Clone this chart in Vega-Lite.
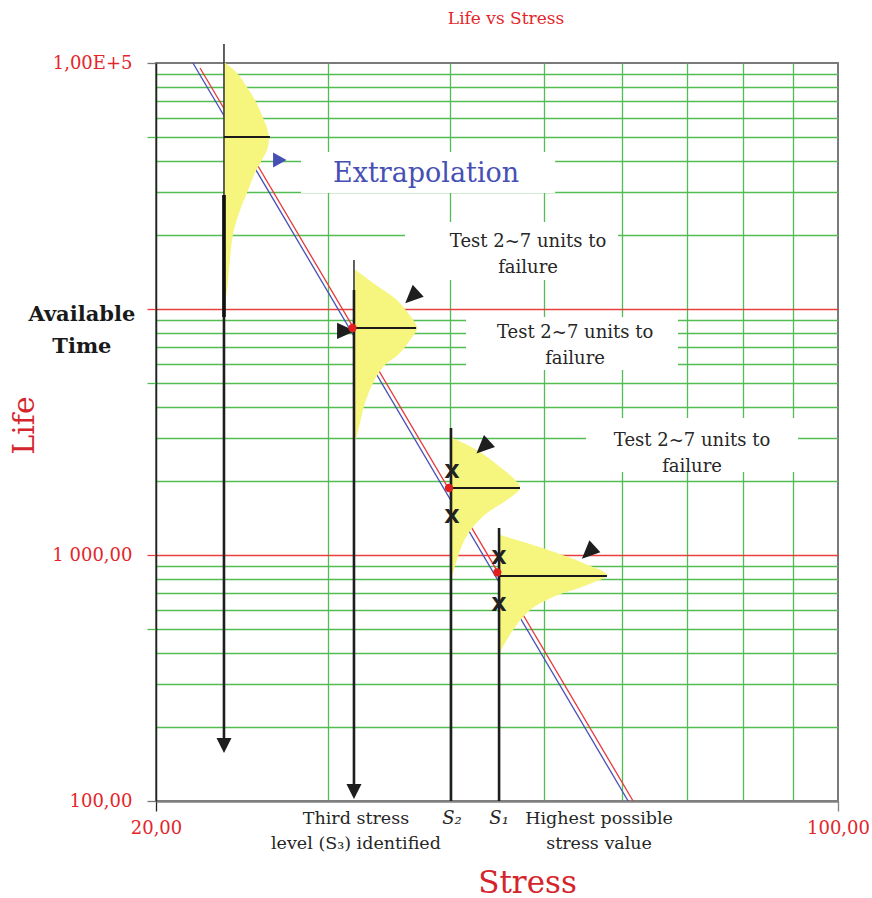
{
  "$schema": "https://vega.github.io/schema/vega-lite/v6.json",
  "width": 682,
  "height": 738,
  "autosize": {"type": "none"},
  "padding": {"left": 156, "top": 63, "right": 34, "bottom": 97},
  "background": "#ffffff",
  "config": {
    "view": {"stroke": "#7a7a7a", "strokeWidth": 2},
    "font": "DejaVu Serif"
  },
  "title": {"text": "Life vs Stress", "font": "DejaVu Serif", "fontSize": 17, "fontWeight": "normal", "color": "#e3262b", "frame": "group", "anchor": "middle", "dx": 9, "offset": 15},
  "encoding": {
    "x": {
      "field": "stress", "type": "quantitative",
      "scale": {"type": "log", "domain": [20, 100], "nice": false, "zero": false},
      "axis": {
        "values": [20, 30, 40, 50, 60, 70, 80, 90, 100],
        "labelExpr": "datum.value == 20 ? '20,00' : datum.value == 100 ? '100,00' : ''",
        "labelFont": "DejaVu Serif", "labelFontSize": 18, "labelColor": "#e3262b", "labelPadding": 8,
        "labelFlush": false, "labelOverlap": false,
        "tickSize": 10, "tickWidth": 1.3,
        "tickColor": {"condition": [{"test": "datum.value == 20", "value": "#222222"}, {"test": "datum.value == 100", "value": "#808080"}], "value": "rgba(0,0,0,0)"},
        "grid": true,
        "gridColor": {"condition": {"test": "datum.value == 20 || datum.value == 100", "value": "rgba(0,0,0,0)"}, "value": "#52bd52"},
        "gridWidth": 1.3,
        "domainColor": "#808080", "domainWidth": 2.5,
        "title": "Stress", "titleFont": "DejaVu Serif", "titleFontSize": 31, "titleFontWeight": "normal", "titleColor": "#d4252d",
        "titleX": 371, "titleY": 91, "titleBaseline": "alphabetic"
      }
    },
    "y": {
      "field": "life", "type": "quantitative",
      "scale": {"type": "log", "domain": [100, 100000], "nice": false, "zero": false},
      "axis": {
        "values": [100, 200, 300, 400, 500, 600, 700, 800, 900, 1000, 2000, 3000, 4000, 5000, 6000, 7000, 8000, 9000, 10000, 20000, 30000, 40000, 50000, 60000, 70000, 80000, 90000, 100000],
        "labelExpr": "datum.value == 100000 ? '1,00E+5' : datum.value == 1000 ? '1 000,00' : datum.value == 100 ? '100,00' : ''",
        "labelFont": "DejaVu Serif", "labelFontSize": 18, "labelColor": "#e3262b", "labelPadding": 15,
        "labelFlush": false, "labelOverlap": false,
        "tickSize": 9, "tickWidth": 1.3,
        "tickColor": {"condition": [{"test": "datum.value == 1000 || datum.value == 10000", "value": "#e8403f"}, {"test": "datum.value == 100 || datum.value == 100000", "value": "#777777"}, {"test": "datum.value == 500 || datum.value == 5000 || datum.value == 50000", "value": "#52bd52"}], "value": "rgba(0,0,0,0)"},
        "grid": true,
        "gridColor": {"condition": [{"test": "datum.value == 1000 || datum.value == 10000", "value": "#e8403f"}, {"test": "datum.value == 100 || datum.value == 100000", "value": "rgba(0,0,0,0)"}], "value": "#52bd52"},
        "gridWidth": 1.3,
        "domainColor": "#1e261e", "domainWidth": 1.5,
        "title": "Life", "titleFont": "DejaVu Serif", "titleFontSize": 30, "titleFontWeight": "normal", "titleColor": "#d4252d",
        "titleX": -117, "titleY": 362
      }
    }
  },
  "layer": [
    {
      "data": {"values": [
        {"stress": 28.16, "stress2": 51.3, "life": 43480, "life2": 29610},
        {"stress": 35.99, "stress2": 59.51, "life": 22570, "life2": 13120},
        {"stress": 41.57, "stress2": 68.55, "life": 9280, "life2": 5649},
        {"stress": 55.19, "stress2": 91.0, "life": 3606, "life2": 2175}
      ]},
      "mark": {"type": "rect", "fill": "#ffffff"},
      "encoding": {"x2": {"field": "stress2"}, "y2": {"field": "life2"}}
    },
    {
      "data": {"values": [
        {"series": "blue", "stress": 21.82, "life": 100000},
        {"series": "blue", "stress": 60.94, "life": 100},
        {"series": "red", "stress": 22.19, "life": 95430},
        {"series": "red", "stress": 61.66, "life": 100}
      ]},
      "mark": {"type": "line", "strokeWidth": 1.3},
      "encoding": {"color": {"field": "series", "type": "nominal", "scale": {"domain": ["red", "blue"], "range": ["#e8383a", "#4650b4"]}, "legend": null}}
    },
    {
      "data": {"values": [
        {"d": 1, "base": 23.48, "life": 100940, "stress": 23.5},
        {"d": 1, "base": 23.48, "life": 91080, "stress": 24.21},
        {"d": 1, "base": 23.48, "life": 79870, "stress": 24.79},
        {"d": 1, "base": 23.48, "life": 70710, "stress": 25.26},
        {"d": 1, "base": 23.48, "life": 59760, "stress": 25.75},
        {"d": 1, "base": 23.48, "life": 54420, "stress": 25.99},
        {"d": 1, "base": 23.48, "life": 49560, "stress": 26.11},
        {"d": 1, "base": 23.48, "life": 44300, "stress": 25.99},
        {"d": 1, "base": 23.48, "life": 40340, "stress": 25.68},
        {"d": 1, "base": 23.48, "life": 35710, "stress": 25.26},
        {"d": 1, "base": 23.48, "life": 29610, "stress": 24.79},
        {"d": 1, "base": 23.48, "life": 25260, "stress": 24.39},
        {"d": 1, "base": 23.48, "life": 19990, "stress": 23.98},
        {"d": 1, "base": 23.48, "life": 14410, "stress": 23.76},
        {"d": 1, "base": 23.48, "life": 11950, "stress": 23.65},
        {"d": 1, "base": 23.48, "life": 10285, "stress": 23.5},
        {"d": 2, "base": 31.95, "life": 14410, "stress": 32.05},
        {"d": 2, "base": 31.95, "life": 12760, "stress": 33.38},
        {"d": 2, "base": 31.95, "life": 10880, "stress": 35.32},
        {"d": 2, "base": 31.95, "life": 9632, "stress": 36.25},
        {"d": 2, "base": 31.95, "life": 8373, "stress": 37.03},
        {"d": 2, "base": 31.95, "life": 7482, "stress": 36.42},
        {"d": 2, "base": 31.95, "life": 6624, "stress": 35.57},
        {"d": 2, "base": 31.95, "life": 5810, "stress": 34.17},
        {"d": 2, "base": 31.95, "life": 5003, "stress": 33.38},
        {"d": 2, "base": 31.95, "life": 4148, "stress": 32.75},
        {"d": 2, "base": 31.95, "life": 3440, "stress": 32.37},
        {"d": 2, "base": 31.95, "life": 2934, "stress": 32.05},
        {"d": 3, "base": 40.12, "life": 2990, "stress": 40.25},
        {"d": 3, "base": 40.12, "life": 2672, "stress": 42.66},
        {"d": 3, "base": 40.12, "life": 2279, "stress": 45.04},
        {"d": 3, "base": 40.12, "life": 2018, "stress": 46.67},
        {"d": 3, "base": 40.12, "life": 1873, "stress": 47.22},
        {"d": 3, "base": 40.12, "life": 1673, "stress": 45.79},
        {"d": 3, "base": 40.12, "life": 1482, "stress": 43.68},
        {"d": 3, "base": 40.12, "life": 1299, "stress": 42.26},
        {"d": 3, "base": 40.12, "life": 1119, "stress": 41.28},
        {"d": 3, "base": 40.12, "life": 954.3, "stress": 40.69},
        {"d": 3, "base": 40.12, "life": 829.3, "stress": 40.25},
        {"d": 4, "base": 44.94, "life": 1206, "stress": 45.1},
        {"d": 4, "base": 44.94, "life": 1119, "stress": 48.0},
        {"d": 4, "base": 44.94, "life": 1019, "stress": 51.54},
        {"d": 4, "base": 44.94, "life": 927.9, "stress": 54.8},
        {"d": 4, "base": 44.94, "life": 829.3, "stress": 57.98},
        {"d": 4, "base": 44.94, "life": 755.1, "stress": 55.31},
        {"d": 4, "base": 44.94, "life": 675.0, "stress": 51.05},
        {"d": 4, "base": 44.94, "life": 597.6, "stress": 48.34},
        {"d": 4, "base": 44.94, "life": 509.7, "stress": 46.67},
        {"d": 4, "base": 44.94, "life": 438.8, "stress": 45.58},
        {"d": 4, "base": 44.94, "life": 399.6, "stress": 45.04},
        {"d": 4, "base": 44.94, "life": 357.1, "stress": 44.94}
      ]},
      "mark": {"type": "area", "orient": "horizontal", "interpolate": "catmull-rom", "color": "#f6f57e", "fillOpacity": 1},
      "encoding": {
        "x": {"field": "stress", "type": "quantitative", "stack": null},
        "x2": {"field": "base"},
        "detail": {"field": "d", "type": "nominal"}
      }
    },
    {
      "data": {"values": [
        {"part": "lead", "stress": 23.48, "life": 119460, "life2": 29060},
        {"part": "stem", "stress": 23.48, "life": 29060, "life2": 177},
        {"part": "thick", "stress": 23.48, "life": 29060, "life2": 9280},
        {"part": "lead", "stress": 31.91, "life": 15820, "life2": 11950},
        {"part": "stem", "stress": 31.91, "life": 11950, "life2": 112},
        {"part": "stem", "stress": 40.12, "life": 3284, "life2": 100},
        {"part": "stem", "stress": 44.94, "life": 1288, "life2": 100}
      ]},
      "layer": [
        {"transform": [{"filter": "datum.part == 'lead'"}], "mark": {"type": "rule", "color": "#3a3a3a", "strokeWidth": 1.6}, "encoding": {"y2": {"field": "life2"}}},
        {"transform": [{"filter": "datum.part == 'stem'"}], "mark": {"type": "rule", "color": "#1e1e1e", "strokeWidth": 2.6}, "encoding": {"y2": {"field": "life2"}}},
        {"transform": [{"filter": "datum.part == 'thick'"}], "mark": {"type": "rule", "color": "#111111", "strokeWidth": 3.6}, "encoding": {"y2": {"field": "life2"}}}
      ]
    },
    {
      "data": {"values": [
        {"stress": 23.48, "stress2": 26.17, "life": 50030},
        {"stress": 31.91, "stress2": 36.95, "life": 8373},
        {"stress": 40.12, "stress2": 47.22, "life": 1873},
        {"stress": 44.94, "stress2": 57.98, "life": 821.5}
      ]},
      "mark": {"type": "rule", "color": "#1a1a1a", "strokeWidth": 2},
      "encoding": {"x2": {"field": "stress2"}}
    },
    {
      "data": {"values": [
        {"stress": 23.48, "life": 168.1},
        {"stress": 31.91, "life": 109.3}
      ]},
      "mark": {"type": "point", "shape": "M-1,-1 L1,-1 L0,1 Z", "size": 225, "filled": true, "fill": "#1e1e1e", "opacity": 1, "strokeWidth": 0}
    },
    {
      "data": {"values": [
        {"stress": 36.74, "life": 11430},
        {"stress": 43.47, "life": 2800},
        {"stress": 55.75, "life": 1045}
      ]},
      "mark": {"type": "point", "shape": "M-0.85,0.85 L-0.1,-1 L1,0.2 Z", "size": 400, "filled": true, "fill": "#1e1e1e", "opacity": 1, "strokeWidth": 0}
    },
    {
      "data": {"values": [{"stress": 31.32, "life": 8141}]},
      "mark": {"type": "point", "shape": "M-1,-0.9 L1,0 L-1,0.9 Z", "size": 324, "filled": true, "fill": "#1e1e1e", "opacity": 1, "strokeWidth": 0}
    },
    {
      "data": {"values": [{"stress": 26.74, "life": 40340}]},
      "mark": {"type": "point", "shape": "M-0.8,-1 L1,0 L-0.8,1 Z", "size": 225, "filled": true, "fill": "#4650b4", "opacity": 1, "strokeWidth": 0}
    },
    {
      "data": {"values": [
        {"stress": 31.8, "life": 8373},
        {"stress": 39.93, "life": 1873},
        {"stress": 44.75, "life": 850}
      ]},
      "mark": {"type": "point", "shape": "circle", "size": 70, "filled": true, "fill": "#e02020", "opacity": 1, "strokeWidth": 0}
    },
    {
      "data": {"values": [
        {"stress": 40.2, "life": 2175},
        {"stress": 40.2, "life": 1427},
        {"stress": 44.94, "life": 972},
        {"stress": 44.94, "life": 626}
      ]},
      "mark": {"type": "text", "text": "X", "font": "DejaVu Sans", "fontWeight": "bold", "fontSize": 20, "color": "#222222", "baseline": "middle", "align": "center"}
    },
    {
      "data": {"values": [{"label": "Extrapolation", "stress": 37.83, "life": 35390}]},
      "mark": {"type": "text", "font": "DejaVu Serif", "fontSize": 27, "color": "#4650b4", "baseline": "middle", "align": "center"},
      "encoding": {"text": {"field": "label"}}
    },
    {
      "data": {"values": [
        {"label": "Test 2~7 units to", "stress": 48.12, "life": 18730},
        {"label": "failure", "stress": 48.12, "life": 14680},
        {"label": "Test 2~7 units to", "stress": 53.77, "life": 7989},
        {"label": "failure", "stress": 53.77, "life": 6263},
        {"label": "Test 2~7 units to", "stress": 70.86, "life": 2906},
        {"label": "failure", "stress": 70.86, "life": 2279}
      ]},
      "mark": {"type": "text", "font": "DejaVu Serif", "fontSize": 18, "color": "#262626", "baseline": "middle", "align": "center"},
      "encoding": {"text": {"field": "label"}}
    },
    {
      "data": {"values": [
        {"label": "Third stress", "stress": 32.06, "life": 84.5},
        {"label": "level (S₃) identified", "stress": 32.06, "life": 66.8},
        {"label": "Highest possible", "stress": 56.9, "life": 84.5},
        {"label": "stress value", "stress": 56.9, "life": 66.8}
      ]},
      "mark": {"type": "text", "font": "DejaVu Serif", "fontSize": 17.5, "color": "#262626", "baseline": "middle", "align": "center"},
      "encoding": {"text": {"field": "label"}}
    },
    {
      "data": {"values": [
        {"label": "S₂", "stress": 40.22, "life": 84.5},
        {"label": "S₁", "stress": 44.94, "life": 84.5}
      ]},
      "mark": {"type": "text", "font": "DejaVu Serif", "fontSize": 18, "fontStyle": "italic", "color": "#262626", "baseline": "middle", "align": "center"},
      "encoding": {"text": {"field": "label"}}
    },
    {
      "data": {"values": [
        {"label": "Available", "stress": 16.79, "life": 9454},
        {"label": "Time", "stress": 16.79, "life": 7006}
      ]},
      "mark": {"type": "text", "font": "DejaVu Serif", "fontSize": 21, "fontWeight": "bold", "color": "#1a1a1a", "baseline": "middle", "align": "center"},
      "encoding": {"text": {"field": "label"}}
    }
  ]
}
